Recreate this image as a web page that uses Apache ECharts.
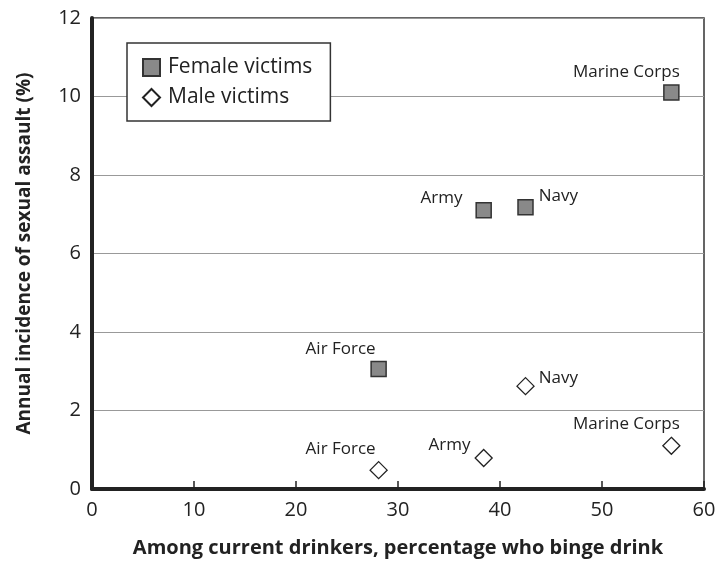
<!DOCTYPE html>
<html>
<head>
<meta charset="utf-8">
<script src="https://cdn.jsdelivr.net/npm/echarts@6/dist/echarts.min.js"></script>
<style>
  html, body { margin: 0; padding: 0; background: #fff; }
  #chart { width: 728px; height: 561px; }
</style>
</head>
<body>
<div id="chart"></div>
<script>
const services = ['Air Force', 'Army', 'Navy', 'Marine Corps'];
const bingePct = [28.1, 38.4, 42.5, 56.8];
const femaleRate = [3.06, 7.1, 7.18, 10.1];
const maleRate = [0.48, 0.79, 2.62, 1.1];

// where each label sits relative to its marker
const femaleLabelPos = [
    { position: 'top', distance: 3, offset: [-38, 0] },
    { position: 'left', distance: 13, offset: [0, -12] },
    { position: 'right', distance: 5, offset: [0, -11] },
    { position: 'top', distance: 4, offset: [-45, 0] }
];
const maleLabelPos = [
    { position: 'top', distance: 3, offset: [-38, 0] },
    { position: 'left', distance: 4, offset: [0, -13] },
    { position: 'right', distance: 4, offset: [0, -8] },
    { position: 'top', distance: 4, offset: [-45, 0] }
];

const font = '"Open Sans", "Noto Sans", sans-serif';

function buildData(values, labels) {
    const out = [];
    for (const i in services) {
        out.push({
            name: services[i],
            value: [bingePct[i], values[i]],
            label: labels[i]
        });
    }
    return out;
}

const dom = document.getElementById('chart');
const myChart = echarts.init(dom);
const option = {
    animation: false,
    textStyle: { fontFamily: font },
    grid: {
        left: 92, right: 24, top: 18, bottom: 72,
        outerBoundsMode: 'none',
        show: true,
        borderColor: '#333',
        borderWidth: 1.5
    },
    legend: {
        orient: 'vertical',
        left: 127,
        top: 43,
        padding: [14, 18, 13, 15],
        itemGap: 9,
        itemWidth: 17,
        itemHeight: 17,
        borderColor: '#333',
        borderWidth: 1.5,
        backgroundColor: '#fff',
        textStyle: { fontFamily: font, fontSize: 21, color: '#222', padding: [0, 0, 0, 3] },
        data: ['Female victims', 'Male victims']
    },
    xAxis: {
        type: 'value',
        min: 0,
        max: 60,
        interval: 10,
        name: 'Among current drinkers, percentage who binge drink',
        nameLocation: 'middle',
        nameGap: 49,
        nameTextStyle: { fontFamily: font, fontSize: 20, fontWeight: 'bold', color: '#222' },
        axisLine: { onZero: false, lineStyle: { color: '#222', width: 4 } },
        axisTick: { inside: true, length: 8, lineStyle: { color: '#222', width: 1.5 } },
        axisLabel: { fontFamily: font, fontSize: 20, color: '#222', margin: 11 },
        splitLine: { show: false }
    },
    yAxis: {
        type: 'value',
        min: 0,
        max: 12,
        interval: 2,
        name: 'Annual incidence of sexual assault (%)',
        nameLocation: 'middle',
        nameGap: 58,
        nameTextStyle: { fontFamily: font, fontSize: 19, fontWeight: 'bold', color: '#222' },
        axisLine: { show: true, lineStyle: { color: '#222', width: 4 } },
        axisTick: { show: false },
        axisLabel: { fontFamily: font, fontSize: 20, color: '#222', margin: 11 },
        splitLine: { lineStyle: { color: '#999', width: 1 } }
    },
    series: [{
        name: 'Female victims',
        type: 'scatter',
        symbol: 'rect',
        symbolSize: 15,
        itemStyle: { color: '#898989', borderColor: '#333', borderWidth: 1.5, opacity: 1 },
        label: { show: true, formatter: '{b}', fontFamily: font, fontSize: 17, color: '#222' },
        data: buildData(femaleRate, femaleLabelPos)
    }, {
        name: 'Male victims',
        type: 'scatter',
        symbol: 'diamond',
        symbolSize: 17,
        itemStyle: { color: '#fff', borderColor: '#222', borderWidth: 1.3, opacity: 1 },
        label: { show: true, formatter: '{b}', fontFamily: font, fontSize: 17, color: '#222' },
        data: buildData(maleRate, maleLabelPos)
    }]
};
if (option && typeof option === 'object') {
    myChart.setOption(option, true);
}
</script>
</body>
</html>
